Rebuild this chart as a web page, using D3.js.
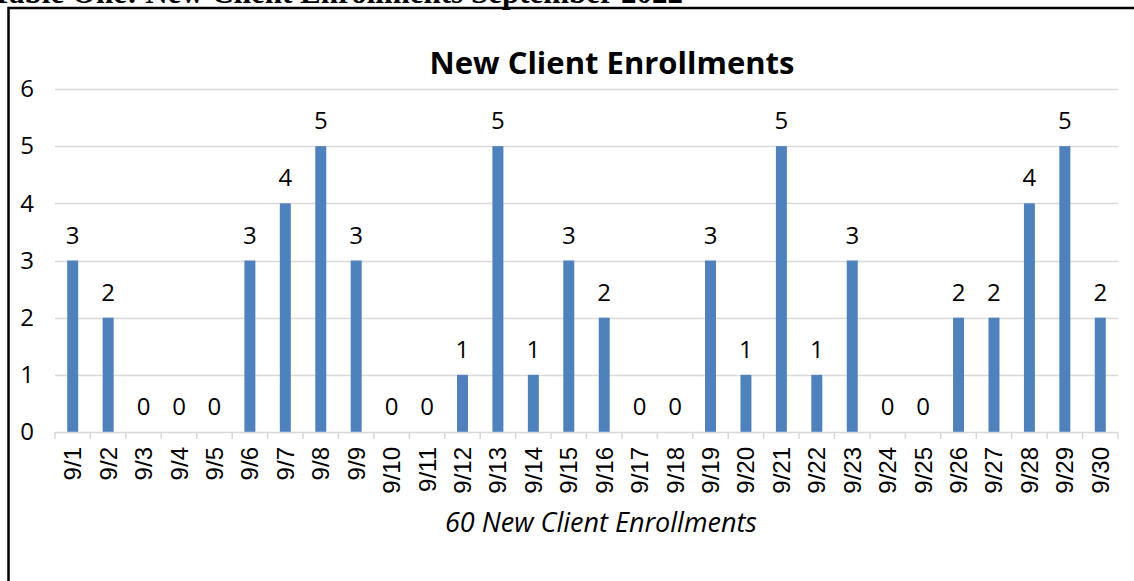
<!DOCTYPE html>
<html lang="en">
<head>
  <meta charset="UTF-8">
  <title>New Client Enrollments</title>
  <script src="https://d3js.org/d3.v7.min.js"></script>
  <style>
    html, body { margin: 0; padding: 0; background: #fff; overflow: hidden; }
    svg { display: block; }
  </style>
</head>
<body>
  <div id="chart"></div>

  <script>
    // data
    const days = ["9/1","9/2","9/3","9/4","9/5","9/6","9/7","9/8","9/9","9/10",
                  "9/11","9/12","9/13","9/14","9/15","9/16","9/17","9/18","9/19","9/20",
                  "9/21","9/22","9/23","9/24","9/25","9/26","9/27","9/28","9/29","9/30"];
    const enrollments = [3,2,0,0,0,3,4,5,3,0,
                         0,1,5,1,3,2,0,0,3,1,
                         5,1,3,0,0,2,2,4,5,2];
    const yTicks = [0,1,2,3,4,5,6];
    const heading = "Table One: New Client Enrollments September 2022";
    const title = "New Client Enrollments";
    const subtitle = "60 New Client Enrollments";

    const ancho = 1134, alto = 581;
    const margen = { superior: 89, derecho: 16, inferior: 149, izquierdo: 55 };
    const anchoGrafico = ancho - margen.izquierdo - margen.derecho;
    const altoGrafico = alto - margen.superior - margen.inferior;

    const svg = d3.select("#chart")
      .append("svg")
      .attr("width", ancho)
      .attr("height", alto);

    // cropped document heading above the box
    svg.append("text")
      .attr("x", 683)
      .attr("y", 3)
      .attr("text-anchor", "end")
      .style("font-family", "'Liberation Serif', 'Times New Roman', serif")
      .style("font-weight", "bold")
      .style("font-size", "31px")
      .text(heading);

    // frame
    svg.append("rect")
      .attr("x", 8.5)
      .attr("y", 8)
      .attr("width", ancho + 20)
      .attr("height", alto + 20)
      .attr("fill", "none")
      .attr("stroke", "#000")
      .attr("stroke-width", 2.5);

    const grafico = svg.append("g")
      .attr("transform", `translate(${margen.izquierdo}, ${margen.superior})`);

    const x = d3.scaleBand()
      .domain(days)
      .range([0, anchoGrafico])
      .paddingInner(0.69)
      .paddingOuter(0.345);

    const y = d3.scaleLinear()
      .domain([0, 6])
      .range([altoGrafico, 0]);

    // gridlines
    grafico.append("g")
      .selectAll("line")
      .data(yTicks.filter(d => d > 0))
      .enter()
      .append("line")
      .attr("x1", 0)
      .attr("x2", anchoGrafico)
      .attr("y1", d => Math.round(y(d)) + 0.5)
      .attr("y2", d => Math.round(y(d)) + 0.5)
      .attr("stroke", "#d9d9d9")
      .attr("stroke-width", 1.5);

    // y axis labels
    const ejeY = d3.axisLeft(y).tickValues(yTicks).tickFormat(d3.format("d")).tickSize(0).tickPadding(28);
    const gy = grafico.append("g").call(ejeY);
    gy.select(".domain").remove();
    gy.selectAll("text")
      .attr("text-anchor", "middle")
      .attr("dx", 0)
      .attr("fill", "#000")
      .style("font-family", "'Open Sans', sans-serif")
      .style("font-size", "24px");

    // bars
    grafico.selectAll(".barra")
      .data(days)
      .enter()
      .append("rect")
      .attr("class", "barra")
      .attr("x", d => x(d))
      .attr("y", (d, i) => y(enrollments[i]))
      .attr("width", x.bandwidth())
      .attr("height", (d, i) => altoGrafico - y(enrollments[i]))
      .attr("fill", "#4f81bd");

    // data labels
    grafico.selectAll(".etiqueta")
      .data(days)
      .enter()
      .append("text")
      .attr("class", "etiqueta")
      .attr("x", d => x(d) + x.bandwidth() / 2)
      .attr("y", (d, i) => y(enrollments[i]) - 17)
      .attr("text-anchor", "middle")
      .style("font-family", "'Open Sans', sans-serif")
      .style("font-size", "24px")
      .text((d, i) => enrollments[i]);

    // x axis line and tick marks at category boundaries
    const gx = grafico.append("g")
      .attr("transform", `translate(0, ${altoGrafico})`);
    gx.append("line")
      .attr("x1", 0)
      .attr("x2", anchoGrafico)
      .attr("y1", 0.5)
      .attr("y2", 0.5)
      .attr("stroke", "#d9d9d9")
      .attr("stroke-width", 1.5);
    const paso = x.step();
    gx.selectAll(".marca")
      .data(d3.range(days.length + 1))
      .enter()
      .append("line")
      .attr("class", "marca")
      .attr("x1", i => i * paso)
      .attr("x2", i => i * paso)
      .attr("y1", 0)
      .attr("y2", 7)
      .attr("stroke", "#d9d9d9")
      .attr("stroke-width", 1.5);

    gx.selectAll(".dia")
      .data(days)
      .enter()
      .append("text")
      .attr("class", "dia")
      .attr("transform", d => `translate(${x(d) + x.bandwidth() / 2 + 8.5}, 15) rotate(-90)`)
      .attr("text-anchor", "end")
      .style("font-family", "'Liberation Sans', Arial, sans-serif")
      .style("font-size", "24px")
      .text(d => d);

    // titles
    svg.append("text")
      .attr("x", 612)
      .attr("y", 74)
      .attr("text-anchor", "middle")
      .style("font-family", "'Open Sans', sans-serif")
      .style("font-weight", "bold")
      .style("font-size", "31px")
      .text(title);

    svg.append("text")
      .attr("x", 601)
      .attr("y", 532)
      .attr("text-anchor", "middle")
      .style("font-family", "'Open Sans', sans-serif")
      .style("font-style", "italic")
      .style("font-size", "27px")
      .text(subtitle);
  </script>
</body>
</html>
